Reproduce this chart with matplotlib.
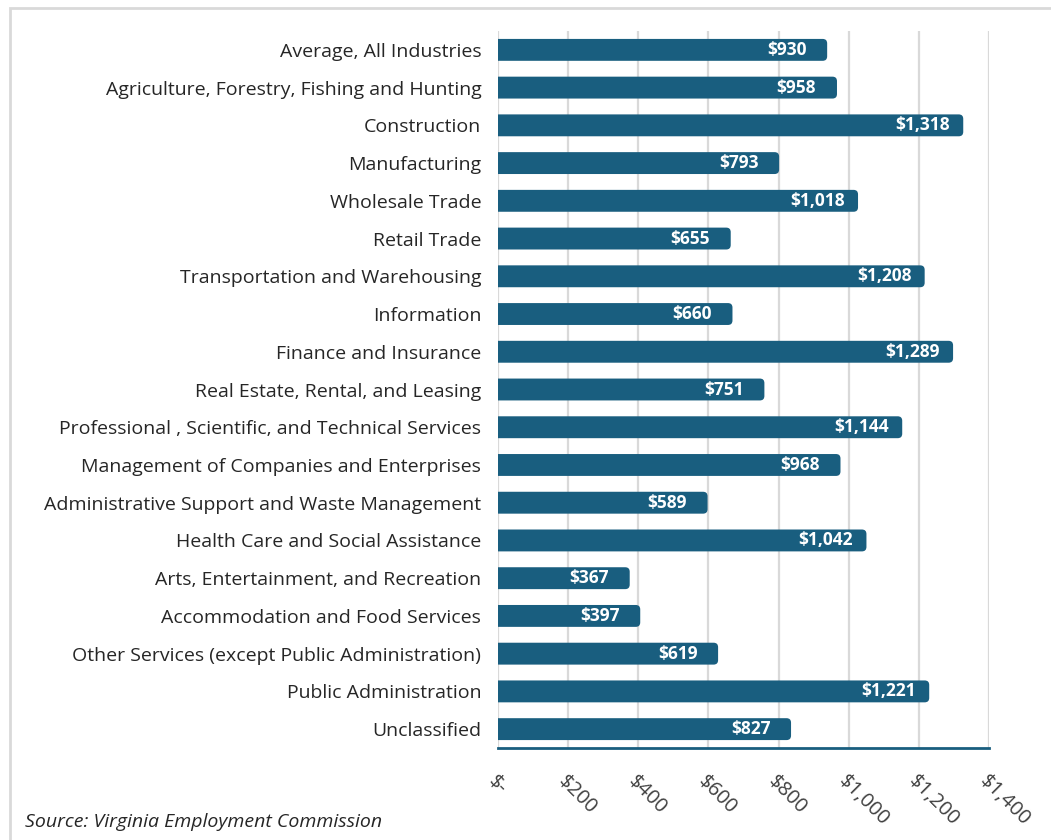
import matplotlib.pyplot as plt
from matplotlib.patches import FancyBboxPatch, Rectangle
from matplotlib.ticker import FuncFormatter

plt.rcParams['font.family'] = ['Open Sans', 'DejaVu Sans']

industries = [
    'Average, All Industries',
    'Agriculture, Forestry, Fishing and Hunting',
    'Construction',
    'Manufacturing',
    'Wholesale Trade',
    'Retail Trade',
    'Transportation and Warehousing',
    'Information',
    'Finance and Insurance',
    'Real Estate, Rental, and Leasing',
    'Professional , Scientific, and Technical Services',
    'Management of Companies and Enterprises',
    'Administrative Support and Waste Management',
    'Health Care and Social Assistance',
    'Arts, Entertainment, and Recreation',
    'Accommodation and Food Services',
    'Other Services (except Public Administration)',
    'Public Administration',
    'Unclassified',
]
weekly_wage = [930, 958, 1318, 793, 1018, 655, 1208, 660, 1289, 751,
               1144, 968, 589, 1042, 367, 397, 619, 1221, 827]
x_ticks = [0, 200, 400, 600, 800, 1000, 1200, 1400]

bar_color = '#195e7f'
bar_h = 0.58

fig = plt.figure(figsize=(10.51, 8.4), dpi=100)
ax = fig.add_axes([498 / 1051, 92 / 840, 491 / 1051, 717 / 840])

ax.set_xlim(0, 1400)
ax.set_ylim(len(industries) - 0.5, -0.5)

# rounded bars (aspect fixed so the corners look round in pixels)
px_x = 491 / 1400
px_y = 717 / len(industries)
r = 4.5
for i, v in enumerate(weekly_wage):
    p = FancyBboxPatch((-20, i - bar_h / 2), v + 20 + 3 / px_x, bar_h,
                       boxstyle='round,pad=0,rounding_size=%f' % (r / px_x),
                       mutation_aspect=(1 / px_y) / (1 / px_x),
                       facecolor=bar_color, edgecolor='none', zorder=3)
    ax.add_patch(p)
    ax.annotate('$' + format(v, ','), (v, i), xytext=(-27, 0), textcoords='offset points',
                ha='center', va='center', color='white', fontweight='bold',
                fontsize=12.5, zorder=4)

ax.set_yticks(range(len(industries)))
ax.set_yticklabels(industries, fontsize=14, color='#262626')
ax.set_xticks(x_ticks)
ax.xaxis.set_major_formatter(FuncFormatter(lambda x, pos: '$-' if x == 0 else '$' + format(int(x), ',')))
for lbl in ax.get_xticklabels():
    lbl.set_rotation(-45)
    lbl.set_ha('left')
    lbl.set_va('top')
    lbl.set_rotation_mode('anchor')
    lbl.set_fontsize(14.5)
    lbl.set_color('#404040')
ax.tick_params(axis='y', length=0, pad=12)
ax.tick_params(axis='x', length=0, pad=17)

ax.grid(axis='x', color='#d9d9d9', linewidth=1.6, zorder=0)
ax.set_axisbelow(True)
for s in ['top', 'right', 'left']:
    ax.spines[s].set_visible(False)
ax.spines['bottom'].set_color(bar_color)
ax.spines['bottom'].set_linewidth(2)
ax.spines['bottom'].set_zorder(5)

# light frame around the chart area
fig.patches.append(Rectangle((10 / 1051, -0.1), 1.2, 1 - 8 / 840 + 0.1, transform=fig.transFigure,
                             fill=False, edgecolor='#d9d9d9', linewidth=2))

fig.text(25 / 1051, 1 - 822 / 840, 'Source: Virginia Employment Commission', fontsize=14,
         style='italic', color='#262626', va='center')

fig.savefig('out.png', dpi=100)
